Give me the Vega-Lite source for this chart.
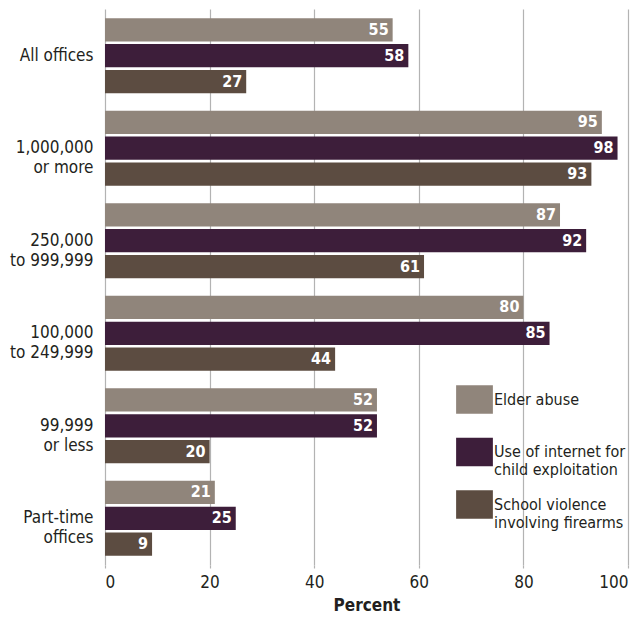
{
  "$schema": "https://vega.github.io/schema/vega-lite/v6.json",
  "width": 523,
  "height": 556,
  "autosize": "none",
  "padding": {"left": 105, "top": 9, "right": 15, "bottom": 60},
  "background": "white",
  "config": {
    "font": "'DejaVu Sans Condensed', 'Roboto', sans-serif",
    "view": {"stroke": null}
  },
  "data": {
    "values": [
      {"office": "All offices", "series": "Elder abuse", "pct": 55},
      {"office": "All offices", "series": "Use of internet for|child exploitation", "pct": 58},
      {"office": "All offices", "series": "School violence|involving firearms", "pct": 27},
      {"office": "1,000,000|or more", "series": "Elder abuse", "pct": 95},
      {"office": "1,000,000|or more", "series": "Use of internet for|child exploitation", "pct": 98},
      {"office": "1,000,000|or more", "series": "School violence|involving firearms", "pct": 93},
      {"office": "250,000|to 999,999", "series": "Elder abuse", "pct": 87},
      {"office": "250,000|to 999,999", "series": "Use of internet for|child exploitation", "pct": 92},
      {"office": "250,000|to 999,999", "series": "School violence|involving firearms", "pct": 61},
      {"office": "100,000|to 249,999", "series": "Elder abuse", "pct": 80},
      {"office": "100,000|to 249,999", "series": "Use of internet for|child exploitation", "pct": 85},
      {"office": "100,000|to 249,999", "series": "School violence|involving firearms", "pct": 44},
      {"office": "99,999|or less", "series": "Elder abuse", "pct": 52},
      {"office": "99,999|or less", "series": "Use of internet for|child exploitation", "pct": 52},
      {"office": "99,999|or less", "series": "School violence|involving firearms", "pct": 20},
      {"office": "Part-time|offices", "series": "Elder abuse", "pct": 21},
      {"office": "Part-time|offices", "series": "Use of internet for|child exploitation", "pct": 25},
      {"office": "Part-time|offices", "series": "School violence|involving firearms", "pct": 9}
    ]
  },
  "encoding": {
    "y": {
      "field": "office", "type": "nominal", "sort": null,
      "scale": {"paddingInner": 0.19, "paddingOuter": 0.1},
      "axis": {
        "title": null, "domain": false, "ticks": false,
        "labelExpr": "split(datum.label, '|')",
        "labelFontSize": 17, "labelColor": "#231f20", "labelPadding": 12,
        "labelLineHeight": 20
      }
    },
    "yOffset": {
      "field": "series", "type": "nominal", "sort": null,
      "scale": {"paddingInner": 0.1}
    },
    "x": {
      "field": "pct", "type": "quantitative",
      "scale": {"domain": [0, 100], "nice": false},
      "axis": {
        "title": "Percent", "titleFontSize": 17, "titleFontWeight": "bold", "titleColor": "#231f20",
        "titlePadding": 7,
        "values": [0, 20, 40, 60, 80, 100], "grid": true, "gridColor": "#b3b3b3", "gridWidth": 1.2,
        "domain": false, "tickColor": "#b3b3b3", "tickSize": 3, "tickWidth": 1.2,
        "labelFontSize": 17, "labelColor": "#231f20", "labelPadding": 6
      }
    }
  },
  "layer": [
    {
      "mark": {"type": "bar"},
      "encoding": {
        "color": {
          "field": "series", "type": "nominal", "sort": null,
          "scale": {
            "domain": ["Elder abuse", "Use of internet for|child exploitation", "School violence|involving firearms"],
            "range": ["#90857b", "#3d1e3a", "#5c4c41"]
          },
          "legend": {
            "title": null, "orient": "none", "legendX": 355, "legendY": 376,
            "gridAlign": "all",
            "symbolType": "M-1.3,-1H1.3V1H-1.3Z", "symbolSize": 800, "symbolOpacity": 1,
            "symbolStrokeWidth": 0,
            "labelExpr": "split(datum.label, '|')",
            "labelFontSize": 16, "labelColor": "#231f20", "labelLineHeight": 19,
            "labelOffset": 5, "rowPadding": 11.5, "labelLimit": 300
          }
        }
      }
    },
    {
      "mark": {"type": "text", "align": "right", "dx": -4, "color": "white", "fontWeight": "bold", "fontSize": 16},
      "encoding": {"text": {"field": "pct", "type": "quantitative"}}
    }
  ]
}
